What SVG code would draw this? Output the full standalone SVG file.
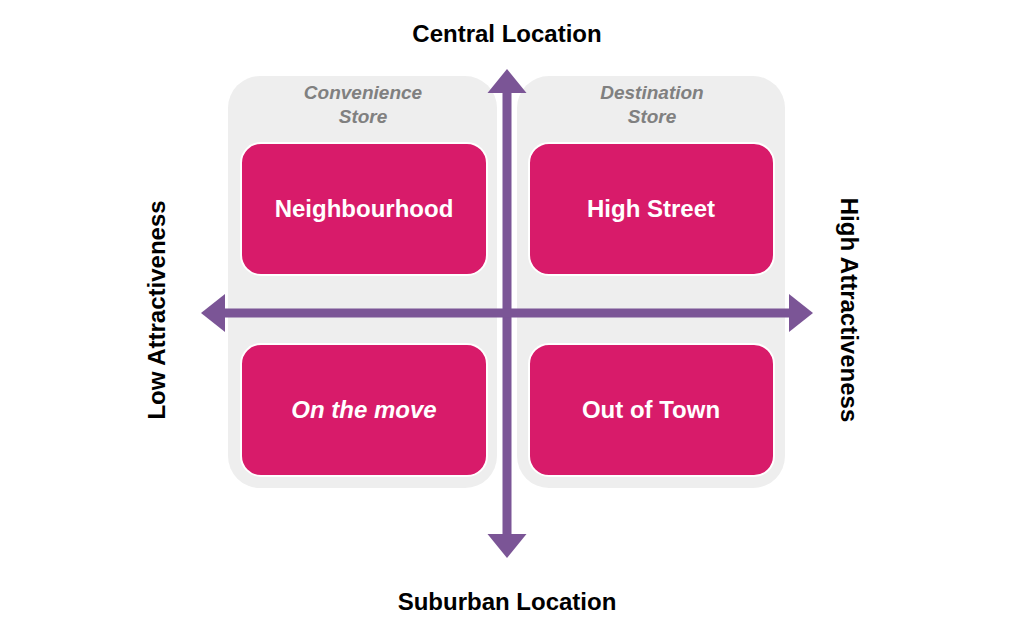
<svg xmlns="http://www.w3.org/2000/svg" width="1015" height="631" viewBox="0 0 1015 631">
<style>
.panel{fill:#EEEEEE}
.box{fill:#D81B6A;stroke:#FFFFFF;stroke-width:2}
.axis{fill:#7B5596}
.ptitle{font-family:"Liberation Sans",Arial,sans-serif;font-weight:bold;font-style:italic;font-size:19px;fill:#808080;text-anchor:middle}
.blabel{font-family:"Liberation Sans",Arial,sans-serif;font-weight:bold;font-size:24px;fill:#FFFFFF;text-anchor:middle}
.alabel{font-family:"Liberation Sans",Arial,sans-serif;font-weight:bold;font-size:24px;fill:#000000;text-anchor:middle}
</style>
<rect width="1015" height="631" fill="#FFFFFF"/>
<g id="panel-convenience">
<rect class="panel" x="228" y="76" width="269" height="412" rx="32"/>
<text class="ptitle" x="363" y="99">Convenience</text>
<text class="ptitle" x="363" y="123">Store</text>
</g>
<g id="panel-destination">
<rect class="panel" x="517" y="76" width="268" height="412" rx="32"/>
<text class="ptitle" x="652" y="99">Destination</text>
<text class="ptitle" x="652" y="123">Store</text>
</g>
<g id="node-neighbourhood">
<rect class="box" x="241" y="143" width="246" height="132" rx="20"/>
<text class="blabel" x="364" y="217">Neighbourhood</text>
</g>
<g id="node-highstreet">
<rect class="box" x="529" y="143" width="245" height="132" rx="20"/>
<text class="blabel" x="651" y="217">High Street</text>
</g>
<g id="node-onthemove">
<rect class="box" x="241" y="344" width="246" height="132" rx="20"/>
<text class="blabel" x="364" y="418" font-style="italic">On the move</text>
</g>
<g id="node-outoftown">
<rect class="box" x="529" y="344" width="245" height="132" rx="20"/>
<text class="blabel" x="651" y="418">Out of Town</text>
</g>
<g id="connectors">
<rect class="axis" x="502.5" y="92" width="9" height="443"/>
<polygon class="axis" points="507,69 526.5,93 487.5,93"/>
<polygon class="axis" points="507,558 526.5,534 487.5,534"/>
<rect class="axis" x="224" y="308.5" width="566" height="9"/>
<polygon class="axis" points="201,313 225,294 225,332"/>
<polygon class="axis" points="813,313 789,294 789,332"/>
</g>
<g id="axis-labels">
<text class="alabel" x="507" y="42">Central Location</text>
<text class="alabel" x="507" y="610">Suburban Location</text>
<text class="alabel" transform="translate(157,310) rotate(-90)" x="0" y="8">Low Attractiveness</text>
<text class="alabel" transform="translate(849,310) rotate(90)" x="0" y="8">High Attractiveness</text>
</g>
</svg>
